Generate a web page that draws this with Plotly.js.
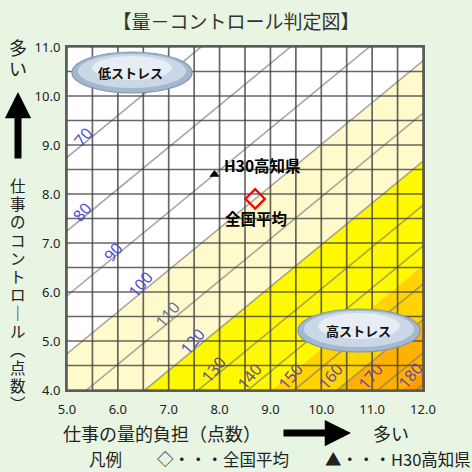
<!DOCTYPE html>
<html><head><meta charset="utf-8">
<script src="https://cdn.plot.ly/plotly-3.0.1.min.js"></script>
<style>html,body{margin:0;padding:0;background:#E8F5E2;}#chart{width:472px;height:472px;}</style>
</head><body><div id="chart"></div>
<script>
// ---- chart values ----
const riskLevels = [70, 80, 90, 100, 110, 120, 130, 140, 150, 160, 170, 180];
const bandEdges = [100, 120, 145, 160, 176];
const pointNames = ['全国平均', 'H30高知県'];
const pointQuantity = [8.7, 7.9];
const pointControl = [7.9, 8.4];
const xTickVals = [5, 6, 7, 8, 9, 10, 11, 12];
const yTickVals = [4, 5, 6, 7, 8, 9, 10, 11];

// ---- risk model of the chart (contours: 100 at the national average) ----
const COEF_Q = 0.076, COEF_C = 0.089;
const BASE_Q = pointQuantity[0], BASE_C = pointControl[0];
function controlAt(q, R) { return BASE_C + (COEF_Q * (q - BASE_Q) - Math.log(R / 100)) / COEF_C; }

// ---- styles / layout helpers ----
const bandColors = ['#FFFACB', '#FFF900', '#FFD400', '#FFB000', '#FF9C00'];
const L = 67, T = 47, W = 356, H = 343;
const px = v => (v - L) / W, py = v => (H + T - v) / H;
const X0 = xTickVals[0], X1 = xTickVals[xTickVals.length - 1];
const Y0 = yTickVals[0], Y1 = yTickVals[yTickVals.length - 1];
const qa = X0 - 1, qb = X1 + 1;

const traces = [];
bandEdges.forEach((r, i) => {
  const xs = [qa, qb], ys = [controlAt(qa, r), controlAt(qb, r)];
  if (i < bandEdges.length - 1) {
    const r2 = bandEdges[i + 1];
    xs.push(qb, qa); ys.push(controlAt(qb, r2), controlAt(qa, r2));
  } else {
    xs.push(qb, qa); ys.push(Y0 - 5, Y0 - 5);
  }
  traces.push({type: 'scatter', mode: 'none', x: xs, y: ys, fill: 'toself',
    fillcolor: bandColors[i], hoverinfo: 'skip', showlegend: false});
});
// contour lines
const cx = [], cy = [];
riskLevels.forEach(r => { cx.push(qa, qb, null); cy.push(controlAt(qa, r), controlAt(qb, r), null); });
traces.push({type: 'scatter', mode: 'lines', x: cx, y: cy, line: {color: 'rgba(120,120,120,0.65)', width: 1.6},
  hoverinfo: 'skip', showlegend: false});
// grid every 0.5
const gx = [], gy = [];
for (let v = X0; v <= X1 + 1e-9; v += 0.5) { gx.push(v, v, null); gy.push(Y0, Y1, null); }
for (let v = Y0; v <= Y1 + 1e-9; v += 0.5) { gx.push(X0, X1, null); gy.push(v, v, null); }
traces.push({type: 'scatter', mode: 'lines', x: gx, y: gy, line: {color: 'rgba(65,65,65,0.8)', width: 1.7},
  hoverinfo: 'skip', showlegend: false});
// points
traces.push({type: 'scatter', mode: 'markers', x: [pointQuantity[0]], y: [pointControl[0]], name: pointNames[0],
  marker: {symbol: 'diamond-open', size: 15, color: '#FF0000', line: {width: 2.2, color: '#FF0000'}}, showlegend: false, cliponaxis: false});
traces.push({type: 'scatter', mode: 'markers', x: [pointQuantity[1]], y: [pointControl[1]], name: pointNames[1],
  marker: {symbol: 'triangle-up', size: 9, color: '#000'}, showlegend: false, cliponaxis: false});

const JP = '"Noto Sans CJK JP", "Noto Sans", sans-serif';
const ann = [];
function txt(xp, yp, text, font, extra) {
  ann.push(Object.assign({xref: 'paper', yref: 'paper', x: px(xp), y: py(yp), text: text, showarrow: false,
    xanchor: 'center', yanchor: 'middle', font: font}, extra || {}));
}
// contour labels (rotated), placed by pixel
const labelPix = [[83,137],[82,212],[113,252],[140,285],[167,315],[192,342],[213,370],[249,377],[290,377],[330,377],[370,377],[410,376]];
riskLevels.forEach((r, i) => {
  txt(labelPix[i][0], labelPix[i][1], String(r),
    {family: 'Noto Sans, sans-serif', size: 16, color: r >= 130 ? '#6A4A98' : (r === 110 ? '#6E6E9E' : '#4E4ED6')}, {textangle: -50});
});
// point labels
txt(222, 165, '<b>' + pointNames[1] + '</b>', {family: JP, size: 15.5, color: '#000'}, {xanchor: 'left'});
txt(223, 218, '<b>' + pointNames[0] + '</b>', {family: JP, size: 15.5, color: '#000'}, {xanchor: 'left'});
// ellipse labels
txt(130, 72, '<b>低ストレス</b>', {family: JP, size: 13, color: '#111'});
txt(358, 330, '<b>高ストレス</b>', {family: JP, size: 13, color: '#111'});
// x axis title, arrow, 多い
txt(162, 433, '仕事の量的負担（点数）', {family: JP, size: 18, color: '#222'});
ann.push({xref: 'paper', yref: 'paper', x: px(351), y: py(433), ax: -69, ay: 0, text: '', showarrow: true,
  arrowhead: 2, arrowsize: 0.75, arrowwidth: 7, arrowcolor: '#000'});
txt(391, 433, '多い', {family: JP, size: 18, color: '#222'});
// y side: 多い + arrow + vertical title
txt(18, 47, '多', {family: JP, size: 18, color: '#222'});
txt(18, 68, 'い', {family: JP, size: 18, color: '#222'});
ann.push({xref: 'paper', yref: 'paper', x: px(18), y: py(92), ax: 0, ay: 68, text: '', showarrow: true,
  arrowhead: 2, arrowsize: 0.75, arrowwidth: 7, arrowcolor: '#000'});
const yTitleChars = Array.from('仕事のコントロ｜ル︵点数︶');
txt(18, 294, yTitleChars.map(c => '<span style="font-size:15.5px">' + c + '</span>').join('<br>'),
  {family: JP, size: 14, color: '#222'});
// legend text
txt(87, 459, '凡例', {family: JP, size: 16.5, color: '#222'}, {xanchor: 'left'});
txt(155, 459, '◇・・・' + pointNames[0], {family: JP, size: 16.5, color: '#222'}, {xanchor: 'left'});
txt(323, 459, '▲・・・' + pointNames[1], {family: JP, size: 16.5, color: '#222'}, {xanchor: 'left'});

const shapes = [
  {type: 'circle', xref: 'paper', yref: 'paper', x0: px(72), x1: px(192), y0: py(93), y1: py(52), fillcolor: '#A4B9D0', line: {color: '#7F95AF', width: 1.2}, layer: 'above'},
  {type: 'circle', xref: 'paper', yref: 'paper', x0: px(78), x1: px(186), y0: py(88), y1: py(54), fillcolor: '#C9D7E6', line: {width: 0}, layer: 'above'},
  {type: 'circle', xref: 'paper', yref: 'paper', x0: px(92), x1: px(172), y0: py(80), y1: py(56), fillcolor: '#E6EDF5', line: {width: 0}, layer: 'above'},
  {type: 'circle', xref: 'paper', yref: 'paper', x0: px(298), x1: px(420), y0: py(352), y1: py(309), fillcolor: '#A4B9D0', line: {color: '#7F95AF', width: 1.2}, layer: 'above'},
  {type: 'circle', xref: 'paper', yref: 'paper', x0: px(304), x1: px(414), y0: py(347), y1: py(311), fillcolor: '#C9D7E6', line: {width: 0}, layer: 'above'},
  {type: 'circle', xref: 'paper', yref: 'paper', x0: px(318), x1: px(400), y0: py(339), y1: py(313), fillcolor: '#E6EDF5', line: {width: 0}, layer: 'above'}
];

const axisCommon = {showgrid: false, zeroline: false, showline: true, mirror: true, linecolor: '#5c5c5c', linewidth: 2,
  ticks: '', tickformat: '.1f', tickfont: {family: 'Noto Sans, sans-serif', size: 13, color: '#222'}, fixedrange: true};
const layout = {
  width: 472, height: 472,
  paper_bgcolor: '#E8F5E2', plot_bgcolor: '#FFFFFF',
  margin: {l: L, r: 472 - L - W, t: T, b: 472 - T - H},
  title: {text: '【量－コントロール判定図】', x: 0.5, xref: 'container', y: 1 - 22 / 472, yref: 'container', yanchor: 'middle',
    font: {family: JP, size: 19, color: '#333'}},
  xaxis: Object.assign({}, axisCommon, {range: [X0, X1], tickvals: xTickVals, ticklabelstandoff: 6}),
  yaxis: Object.assign({}, axisCommon, {range: [Y0, Y1], tickvals: yTickVals, ticklabelstandoff: 2}),
  annotations: ann, shapes: shapes, showlegend: false
};
Plotly.newPlot('chart', traces, layout, {staticPlot: true});
</script></body></html>
